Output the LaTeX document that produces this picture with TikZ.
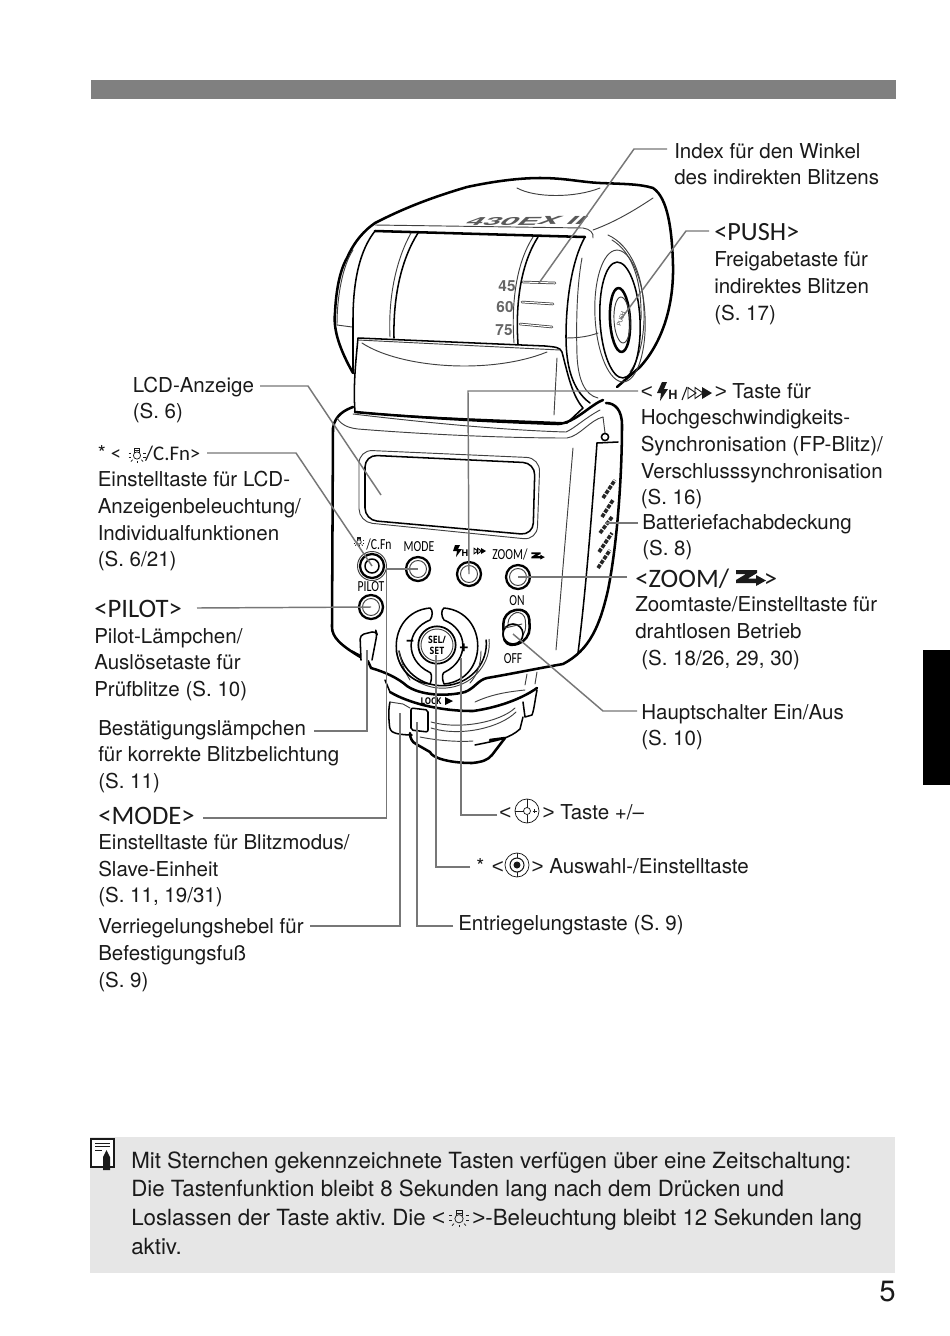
\documentclass[tikz,border=0pt]{standalone}
\usepackage{fontspec}
\setmainfont{TeX Gyre Heros}
\newfontfamily\hdfont{Carlito}
\newfontfamily\lbfont{Open Sans}
\newfontfamily\ltfont{Liberation Sans}
\definecolor{conn}{HTML}{777777}
\definecolor{bar}{HTML}{808080}
\definecolor{notebg}{HTML}{E6E6E6}
\definecolor{ink}{HTML}{1A1A1A}
\newcommand\fl{\rule{0pt}{15pt}}
\newcommand\hd[1]{\hdfont\fontsize{#1}{20pt}\selectfont}
\newcommand\hds{\hdfont\fontsize{15.6pt}{20pt}\selectfont}
\newcommand\LTs{{\ltfont <}}
\newcommand\GTs{{\ltfont >}}
\tikzset{
 lbl/.style={anchor=north west,inner sep=0pt,align=left,text=ink,font=\frenchspacing\fontsize{15.4pt}{20pt}\selectfont},
 conline/.style={draw=conn,line width=1.1pt},
 heavy/.style={draw=black,line width=1.9pt,line join=round,line cap=round},
 med/.style={draw=black,line width=1.15pt,line join=round,line cap=round},
 fine/.style={draw=black!75,line width=.7pt,line join=round,line cap=round},
 btn/.style={circle,draw=black,line width=1.7pt,minimum size=18pt,inner sep=0pt},
 keytxt/.style={inner sep=0pt,xscale=.76,font=\hdfont\fontsize{11.5pt}{12pt}\selectfont,text=black},
 sunicon/.pic={
  \draw[line width=.55pt,ink] (0,1.5) circle[radius=3.6];
  \draw[line width=.55pt,ink] (-2.5,-1) -- (-2.5,-5.5) -- (2.5,-5.5) -- (2.5,-1);
  \draw[line width=.55pt,ink] (-2.5,-3.5) -- (2.5,-3.5);
  \foreach \a/\b/\c/\d in {-8.5/-1/-6/-1, 8.5/-1/6/-1, -8.5/3/-6/3, 8.5/3/6/3, -6/7.5/-4.3/5.7, 6/7.5/4.3/5.7, 0/9/0/7}
   \draw[line width=.55pt,ink] (\a,\b) -- (\c,\d);
 },
 zicon/.pic={
  \fill (-15,-8) -- (6,-8) -- (6,-5) -- (-3,.5) -- (5,.5) -- (5,-3) -- (15,2.5) -- (5,8) -- (5,5) -- (-15,5) -- (-15,2) -- (-5,-4) -- (-15,-4) -- cycle;
 },
 dblarrow/.pic={
  \draw[line width=.7pt] (-12,-5.5) -- (-4,0) -- (-12,5.5) -- cycle;
  \draw[line width=.7pt] (-5,-5.5) -- (3,0) -- (-5,5.5) -- cycle;
  \fill (2,-6) -- (12,0) -- (2,6) -- cycle;
 }
}
\begin{document}
\begin{tikzpicture}[x=0.75pt,y=-0.75pt]
\useasboundingbox (0,0) rectangle (950,1336);
\fill[white] (0,0) rectangle (950,1336);
% page furniture
\fill[bar] (91,80) rectangle (896,99);
\fill[black] (923,650) rectangle (950,785);
\fill[notebg] (90,1137) rectangle (895,1273);

% ---------- flash head ----------
\draw[heavy] (353,373) .. controls (340,350) and (333,330) .. (335,313) .. controls (336,290) and (340,270) .. (347,258) .. controls (355,240) and (365,230) .. (375,223) .. controls (410,205) and (440,195) .. (467,187) .. controls (495,181) and (520,178) .. (540,178) .. controls (565,178) and (580,182) .. (600,183) .. controls (625,184) and (640,184) .. (653,188) .. controls (668,198) and (672,230) .. (673,265) .. controls (674,310) and (660,345) .. (640,367) -- (617,387);
\draw[fine] (353,250) .. controls (343,265) and (337,295) .. (337,325) -- (352,327);
\draw[fine] (517,188) .. controls (535,198) and (575,198) .. (600,188);
\draw[fine] (375,225) -- (583,228) .. controls (590,229) and (594,233) .. (593,238);
\draw[fine] (593,230) .. controls (615,222) and (635,210) .. (653,198);
\draw[heavy] (375,231) -- (585,237);
\draw[med] (375,231) .. controls (360,250) and (353,280) .. (353,320) -- (353,373);
\draw[med] (418,233) .. controls (402,258) and (393,295) .. (394,338);
\draw[fine] (411,233) .. controls (397,258) and (388,295) .. (390,337);
\draw[med] (538,237) .. controls (522,262) and (515,300) .. (518,344);
\draw[fine] (533,237) .. controls (517,262) and (511,300) .. (514,343);
\draw[med] (585,237) .. controls (572,260) and (566,300) .. (566,337) .. controls (566,365) and (572,390) .. (590,403);
\draw[fine] (582,258) .. controls (577,285) and (576,320) .. (577,355) .. controls (578,380) and (585,395) .. (598,398);
\draw[fine] (566,338) .. controls (580,338) and (590,336) .. (598,333);
% big ellipses at the side
\draw[fine] (608,235) .. controls (630,245) and (645,275) .. (644,320) .. controls (643,345) and (638,360) .. (630,372);
\draw[fine] (612,240) .. controls (632,252) and (642,280) .. (641,320);
\draw[fine,rotate around={3:(620,316)}] (620,316) ellipse[x radius=25,y radius=66];
\draw[med,rotate around={3:(620,320)}] (620,320) ellipse[x radius=20,y radius=58];
\draw[heavy,rotate around={3:(620,320)}] (620,320) ellipse[x radius=10,y radius=32];
\draw[fine,rotate around={3:(622,320)}] (622,320) ellipse[x radius=8,y radius=23];
\node[inner sep=0pt,font=\hdfont\fontsize{5pt}{5pt}\selectfont,rotate=72,text=black!70] (pushcap) at (621,319) {PUSH};
% scale
\foreach \n/\xa/\ya/\xb/\yb in {45/523/282/555/283,60/522/302/553/304,75/520/324/552/327}{
 \draw[black!80,line width=1.9pt,line cap=round] (\xa,\ya) -- (\xb,\yb);
 \draw[white,line width=.8pt,line cap=round] (\xa,\ya) -- (\xb,\yb);
}
\node[inner sep=0pt,font=\bfseries\fontsize{11.5pt}{12pt}\selectfont,text=black!60] (s45) at (507,286) {45};
\node[inner sep=0pt,font=\bfseries\fontsize{11.5pt}{12pt}\selectfont,text=black!60] (s60) at (505,307) {60};
\node[inner sep=0pt,font=\bfseries\fontsize{11.5pt}{12pt}\selectfont,text=black!60] (s75) at (504,330) {75};
\node[inner sep=0pt,font=\bfseries\fontsize{23pt}{24pt}\selectfont,text=black!65,xslant=1.1,yscale=.36,rotate=1] (model) at (527,221) {430EX II};

% ---------- LCD flap ----------
\draw[med,fill=white] (358,338) -- (545,346) .. controls (555,347) and (560,347) .. (562,352) .. controls (568,375) and (572,395) .. (583,408) -- (567,423) .. controls (500,420) and (420,418) .. (355,412) .. controls (353,385) and (356,360) .. (358,338) -- cycle;
\draw[heavy] (355,412) .. controls (420,418) and (500,422) .. (558,424) .. controls (575,423) and (590,405) .. (603,400);
\draw[fine] (362,343) .. controls (400,368) and (490,375) .. (547,352);
\draw[fine] (557,358) -- (554,415);
\draw[fine] (358,340) -- (560,350);

% ---------- body ----------
\draw[heavy] (353,407) .. controls (345,410) and (335,415) .. (333,428) -- (332,627) .. controls (332,637) and (340,645) .. (362,658);
\draw[heavy] (606,403) .. controls (615,403) and (622,410) .. (622,425) .. controls (622,470) and (618,540) .. (608,590) .. controls (600,625) and (590,650) .. (563,664) .. controls (540,668) and (505,675) .. (487,678) .. controls (478,680) and (475,688) .. (465,692);
\draw[fine] (337,418) .. controls (342,426) and (350,428) .. (358,429) .. controls (420,434) and (500,438) .. (567,438) .. controls (580,436) and (590,420) .. (603,417);
\draw[fine] (353,414) .. controls (420,422) and (500,430) .. (566,432) .. controls (575,428) and (585,418) .. (600,410);
\draw[fine] (603,417) -- (605,433);
\draw[med] (605,437) circle[radius=3.6];
\draw[med] (597,443) -- (618,442);
\draw[med] (597,443) .. controls (592,510) and (586,590) .. (578,653);
\draw[fine] (573,448) -- (556,650);
% grille
\foreach \xa/\ya/\xb/\yb in {603/498/615/480,602/517/613/500,600/533/612/517,599/552/612/533,598/568/610/550}
 \draw[black!85,line width=2.7pt,dash pattern=on 3pt off 1pt] (\xa,\ya) -- (\xb,\yb);
% LCD
\draw[fine,rounded corners=10pt] (359,450) -- (540,458) -- (537,540) -- (359,522) -- cycle;
\draw[med,rounded corners=9pt] (365,455) -- (535,463) -- (533,535) -- (365,520) -- cycle;

% collar and base
\draw[med] (352,651) -- (367,659);
\draw[heavy] (367,659) -- (371,668) .. controls (385,672) and (398,678) .. (407,686) .. controls (420,695) and (445,697) .. (465,692);
\draw[med] (385,680) -- (390,692);
\draw[heavy] (390,692) .. controls (400,698) and (412,702) .. (423,705) .. controls (440,709) and (455,711) .. (473,711) .. controls (495,708) and (520,700) .. (537,688);
\draw[fine] (475,702) .. controls (490,695) and (505,692) .. (525,690);
\draw[med,rounded corners=2pt] (390,702) .. controls (388,710) and (389,722) .. (390,730) .. controls (395,734) and (405,735) .. (412,735);
\draw[fine] (390,702) -- (403,704) -- (410,708);
\draw[med,rounded corners=1.5pt] (411,708) -- (428,710) -- (428,732) -- (411,730) -- cycle;
\draw[heavy] (410,733) .. controls (410,738) and (412,742) .. (416,744) -- (430,752) .. controls (432,758) and (450,763) .. (472,763) .. controls (482,762) and (488,760) .. (492,755) -- (505,738) -- (490,740);
\draw[fine] (431,722) .. controls (460,730) and (500,722) .. (515,708);
\draw[fine] (431,728) .. controls (460,737) and (500,728) .. (516,712);
\draw[fine] (420,737) .. controls (440,741) and (460,742) .. (473,741);
\draw[med] (537,690) .. controls (535,700) and (534,710) .. (532,715) -- (525,717) -- (523,702);
\draw[med] (523,717) -- (520,729) .. controls (510,738) and (500,740) .. (475,745);
\draw[fine] (527,674) -- (525,685); \draw[fine] (537,672) -- (535,684);

% ---------- controls ----------
\node[btn] (bFn) at (372,566) {};
\draw[fine] (bFn.center) circle[radius=14.5];
\draw[med] (bFn.center) circle[radius=7];
\node[btn] (bMode) at (418,569) {};
\draw[fine] (bMode.center) circle[radius=8.5];
\node[btn] (bHS) at (469,574) {};
\draw[fine] (bHS.center) circle[radius=8.5];
\node[btn] (bZoom) at (518,577) {};
\draw[fine] (bZoom.center) circle[radius=8.5];
\node[btn] (bPilot) at (371,607) {};
\draw[fine] (bPilot.center) circle[radius=8.5];
% lamp window
\draw[med,fill=white,rounded corners=3pt] (361,660) -- (360,635) -- (376,631) -- (377,634) -- (372,660);
\coordinate (lamp) at (367,650);
% dial
\coordinate (dial) at (437,645);
\draw[med] (399,651) arc[start angle=170,end angle=-5,x radius=44,y radius=42];
\draw[fine] (396,651) arc[start angle=170,end angle=-5,x radius=47,y radius=45];
\draw[fine] (481,651) .. controls (481,665) and (477,675) .. (470,683);
\draw[fine] (399,651) .. controls (402,665) and (405,672) .. (410,680);
\draw[med] (430,608) .. controls (385,612) and (385,680) .. (430,684) .. controls (433,676) and (431,672) .. (429,672) .. controls (405,660) and (405,630) .. (430,620) .. controls (433,616) and (433,610) .. (430,608) -- cycle;
\draw[med] (444,608) .. controls (489,612) and (489,680) .. (444,684) .. controls (441,676) and (443,672) .. (445,672) .. controls (469,660) and (469,630) .. (444,620) .. controls (441,616) and (441,610) .. (444,608) -- cycle;
\node[circle,draw=black,line width=1.3pt,minimum size=28pt,inner sep=0pt] (bSel) at (437,645) {};
\draw[fine] (bSel.center) circle[radius=16];
\node[inner sep=0pt,font=\lbfont\bfseries\fontsize{7.6pt}{8.4pt}\selectfont,align=center,xscale=.85] (selT) at (437,645) {SEL/\\SET};
\node[inner sep=0pt,font=\lbfont\bfseries\fontsize{12pt}{12pt}\selectfont] (minusT) at (410,643) {–};
\node[inner sep=0pt,font=\lbfont\bfseries\fontsize{12pt}{12pt}\selectfont] (plusT) at (464,649) {+};
% on/off switch
\draw[heavy,fill=white,rounded corners=9pt] (503,612) -- (529,608) -- (530,640) -- (504,648) -- cycle;
\draw[fine,rounded corners=7pt] (508,614) -- (525,611) -- (526,636) -- (508,644) -- cycle;
\node[circle,draw=black,line width=1.2pt,fill=white,minimum size=15pt,inner sep=0pt] (bSwitch) at (513,634) {};
\draw[fine] (505,628) -- (522,624);
% key labels
\node[keytxt] (tFn) at (379,544) {/C.Fn};
\pic[scale=.62] at (359,541) {sunicon};
\node[keytxt] (tMode) at (419,547) {MODE};
\node[keytxt] (tZoomK) at (510,554) {ZOOM/};
\pic[scale=.45] at (538,556) {zicon};
\node[keytxt] (tPilot) at (371,587) {PILOT};
\node[keytxt] (tOn) at (517,601) {ON};
\node[keytxt] (tOff) at (513,659) {OFF};
\node[inner sep=0pt,font=\lbfont\bfseries\fontsize{7pt}{7pt}\selectfont,xscale=.85] (tLock) at (431,701) {LOCK};
\fill (445,697) -- (453,701) -- (445,705) -- cycle;
% flash key label
\fill (455,545) -- (460,545) -- (458,549) -- (462,549) -- (456,557) -- (457,551) -- (453,551) -- cycle;
\node[inner sep=0pt,font=\lbfont\bfseries\fontsize{7pt}{7pt}\selectfont] (tH) at (465,553) {H};
\pic[scale=.5] at (480,551) {dblarrow};

% ---------- connectors ----------
\coordinate (cIndexS) at (667,149);
\coordinate (cIndexB) at (634,149);
\coordinate (cIndexE) at (539,283);
\draw[conline] (cIndexS) -- (cIndexB) -- (cIndexE);
\coordinate (cPushS) at (709,231);
\coordinate (cPushB) at (686,231);
\draw[conline] (cPushS) -- (cPushB) -- (pushcap.center);
\coordinate (cLcdS) at (260,386);
\coordinate (cLcdB) at (308,386);
\coordinate (cLcdE) at (381,495);
\draw[conline] (cLcdS) -- (cLcdB) -- (cLcdE);
\coordinate (cFnS) at (207,453);
\coordinate (cFnB) at (296,453);
\draw[conline] (cFnS) -- (cFnB) -- (bFn.center);
\coordinate (cPilotS) at (197,608);
\draw[conline] (cPilotS) -- (bPilot.center);
\coordinate (cLampS) at (314,731);
\coordinate (cLampB) at (367,731);
\draw[conline] (cLampS) -- (cLampB) -- (lamp);
\coordinate (cModeS) at (203,818);
\coordinate (cModeB) at (386.5,818);
\coordinate (cModeC) at (386.5,569);
\draw[conline] (cModeS) -- (cModeB) -- (cModeC) -- (bMode.center);
\coordinate (cLockS) at (310,926);
\coordinate (cLockB) at (400,926);
\coordinate (cLockE) at (400,713);
\draw[conline] (cLockS) -- (cLockB) -- (cLockE);
\coordinate (cRelS) at (453,926);
\coordinate (cRelB) at (417,926);
\coordinate (cRelE) at (417,722);
\draw[conline] (cRelS) -- (cRelB) -- (cRelE);
\coordinate (cSelS) at (470,867);
\coordinate (cSelB) at (436,867);
\coordinate (cSelE) at (436,655);
\draw[conline] (cSelS) -- (cSelB) -- (cSelE);
\coordinate (cPlusS) at (497,815);
\coordinate (cPlusB) at (461,815);
\coordinate (cPlusE) at (461,658);
\draw[conline] (cPlusS) -- (cPlusB) -- (cPlusE);
\coordinate (cMainS) at (637,711);
\coordinate (cMainB) at (603,711);
\draw[conline] (cMainS) -- (cMainB) -- (bSwitch.center);
\coordinate (cZoomS) at (627,577);
\draw[conline] (cZoomS) -- (bZoom.center);
\coordinate (cBatS) at (638,523);
\coordinate (cBatE) at (605,523);
\draw[conline] (cBatS) -- (cBatE);
\coordinate (cHsS) at (638,391);
\coordinate (cHsB) at (468,391);
\draw[conline] (cHsS) -- (cHsB) -- (bHS.center);

% ---------- labels ----------
\node[lbl] (lIndex) at (674,138) {\fl Index für den Winkel\\des indirekten Blitzens};
\node[lbl] (lPush) at (714,220) {\fl{\hd{19.7pt}<PUSH>}\\Freigabetaste für\\indirektes Blitzen\\(S. 17)};
\node[lbl] (lLcd) at (132.5,372) {\fl LCD-Anzeige\\(S. 6)};
\node[lbl] (lFn) at (97.5,440) {\fl *\hspace{3.8pt}{\hds <\hspace{18pt}/C.Fn>}\\Einstelltaste für LCD-\\Anzeigenbeleuchtung/\\Individualfunktionen\\(S. 6/21)};
\pic at (137,454) {sunicon};
\node[lbl] (lPilot) at (94,597) {\fl{\hd{20pt}<PILOT>}\\[-.7pt]Pilot-Lämpchen/\\Auslösetaste für\\Prüfblitze (S. 10)};
\node[lbl] (lLamp) at (98,715) {\fl Bestätigungslämpchen\\für korrekte Blitzbelichtung\\(S. 11)};
\node[lbl] (lMode) at (98,804) {\fl{\hd{20pt}<MODE>}\\[-1pt]Einstelltaste für Blitzmodus/\\Slave-Einheit\\(S. 11, 19/31)};
\node[lbl] (lLock) at (98,913.5) {\fl Verriegelungshebel für\\Befestigungsfuß\\(S. 9)};
\node[lbl] (lHs) at (640.5,378) {\fl \LTs\hspace{46.5pt}\GTs{} Taste für\\Hochgeschwindigkeits-\\Synchronisation (FP-Blitz)/\\Verschlusssynchronisation\\(S. 16)};
\fill[ink] (662,382) -- (667,382) -- (664,389) -- (668,389) -- (660,401) -- (661,393) -- (657,393) -- cycle;
\node[inner sep=0pt,font=\bfseries\fontsize{9.5pt}{10pt}\selectfont,text=ink] (iconH) at (673,395) {H};
\draw[ink,line width=.8pt] (687,387) -- (682,400);
\pic[ink] at (700,393) {dblarrow};
\node[lbl] (lBat) at (642,509) {\fl Batteriefachabdeckung\\(S. 8)};
\node[lbl] (lZoom) at (635,567) {\fl{\hd{20pt}<ZOOM/\hspace{26pt}>}\\[-1.5pt]Zoomtaste/Einstelltaste für\\drahtlosen Betrieb\\\hspace{4.5pt}(S. 18/26, 29, 30)};
\pic[ink] at (751,578) {zicon};
\node[lbl] (lMain) at (641,699) {\fl Hauptschalter Ein/Aus\\(S. 10)};
\node[lbl] (lPlus) at (499,799) {\fl \LTs\hspace{23.5pt}\GTs{} Taste +/–};
\draw[ink,line width=.55pt] (527,811) circle[radius=12];
\draw[ink,line width=.55pt] (527,811) circle[radius=3.5];
\draw[ink,line width=.55pt] (527,799) -- (527,807.5) (527,814.5) -- (527,823) (515,811) -- (523.5,811);
\draw[ink,line width=.4pt] (532.5,811) -- (536.5,811) (534.5,809) -- (534.5,813);
\node[lbl] (lSel) at (476,853) {\fl *\hspace{5.7pt}\LTs\hspace{20.8pt}\GTs{} Auswahl-/Einstelltaste};
\draw[ink,line width=.55pt] (517,865) circle[radius=12];
\draw[ink,line width=.8pt] (517,865) circle[radius=7];
\fill[ink] (517,865) circle[radius=3.5];
\draw[ink,line width=.55pt] (517,853) -- (517,858) (517,872) -- (517,877);
\node[lbl] (lRel) at (458,910) {\fl Entriegelungstaste (S. 9)};
% note
\draw[ink,line width=.9pt,fill=white] (91,1139) rectangle (114,1167);
\draw[ink,line width=.7pt] (95,1143) -- (110,1143) (95,1146) -- (110,1146) (95,1150) -- (102,1150);
\fill[ink] (106.5,1150) -- (110,1157) -- (110,1170) -- (103,1170) -- (103,1157) -- cycle;
\node[lbl,font=\frenchspacing\fontsize{16.73pt}{21.5pt}\selectfont] (lNote) at (131,1146.5) {\rule{0pt}{16pt}Mit Sternchen gekennzeichnete Tasten verfügen über eine Zeitschaltung:\\Die Tastenfunktion bleibt 8 Sekunden lang nach dem Drücken und\\Loslassen der Taste aktiv. Die \LTs\hspace{20.5pt}\GTs-Beleuchtung bleibt 12 Sekunden lang\\aktiv.};
\pic[scale=1.15] at (459,1217) {sunicon};
\node[lbl,font=\fontsize{22pt}{24pt}\selectfont] (pageNo) at (879,1279) {\rule{0pt}{17pt}5};
\end{tikzpicture}
\end{document}
